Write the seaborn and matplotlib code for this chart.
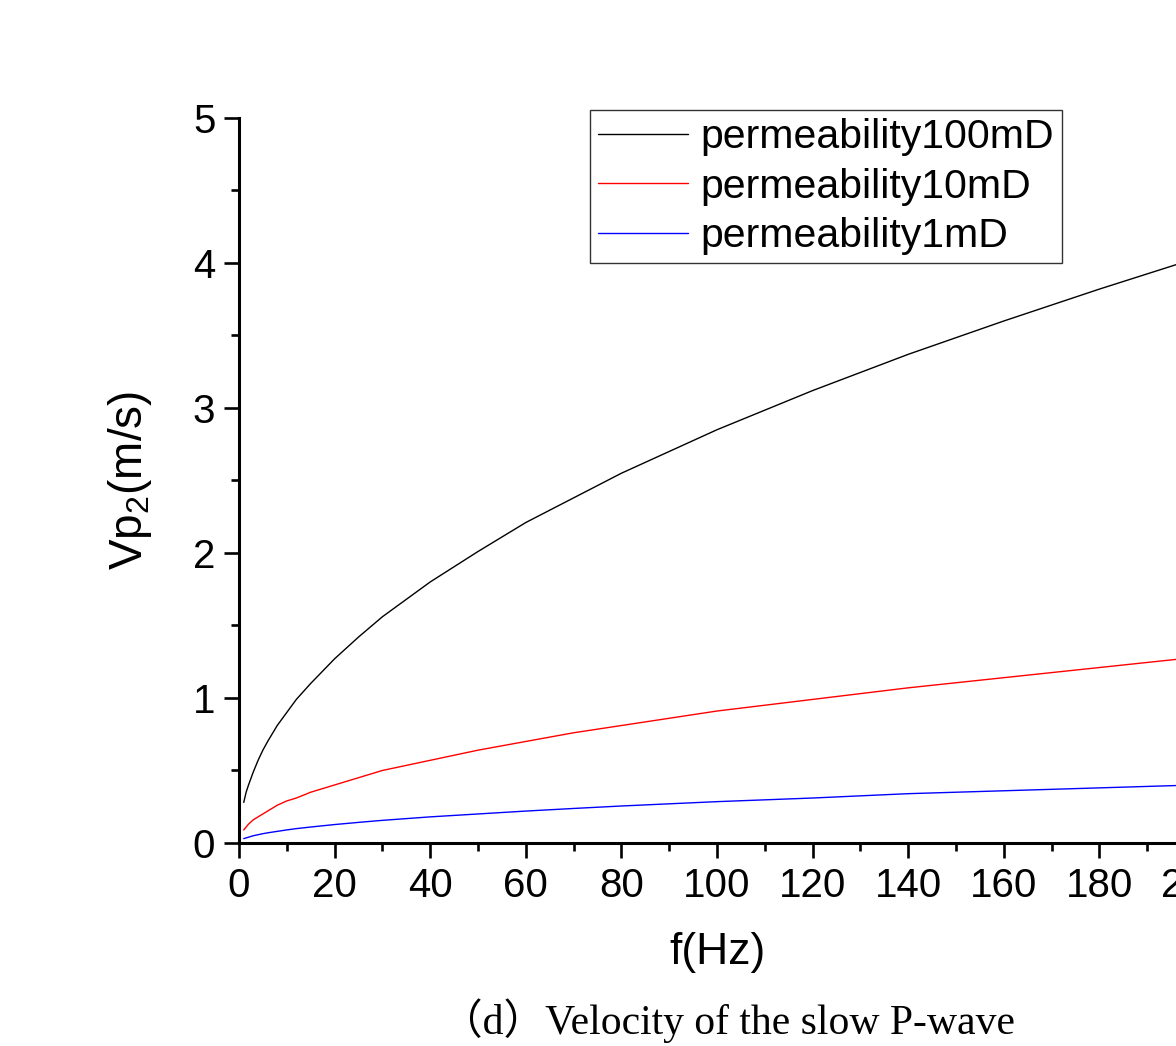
import numpy as np
import pandas as pd
import matplotlib
matplotlib.use("Agg")
import matplotlib.pyplot as plt
from matplotlib.ticker import MultipleLocator
import seaborn as sns

# frequencies (Hz) and velocities
freq = [1, 1.5, 2, 3, 4, 5, 6, 8, 10, 12, 15, 20, 25, 30, 40, 50, 60, 70, 80, 100,
        120, 140, 160, 180, 200]
vp_100mD = [0.28, 0.35, 0.40, 0.49, 0.57, 0.64, 0.70, 0.81, 0.90, 0.99, 1.10, 1.27,
            1.42, 1.56, 1.80, 2.01, 2.21, 2.38, 2.55, 2.85, 3.12, 3.37, 3.60, 3.82, 4.03]
vp_10mD = [0.09, 0.11, 0.13, 0.16, 0.18, 0.20, 0.22, 0.26, 0.29, 0.31, 0.35, 0.40,
           0.45, 0.50, 0.57, 0.64, 0.70, 0.76, 0.81, 0.91, 0.99, 1.07, 1.14, 1.21, 1.28]
vp_1mD = [0.03, 0.035, 0.04, 0.05, 0.057, 0.064, 0.07, 0.08, 0.09, 0.099, 0.11, 0.127,
          0.142, 0.156, 0.18, 0.20, 0.22, 0.238, 0.255, 0.285, 0.31, 0.34, 0.36, 0.38, 0.40]
labels = ['permeability100mD', 'permeability10mD', 'permeability1mD']
colors = ['black', 'red', 'blue']

df = pd.concat([
    pd.DataFrame({'f': freq, 'vp': v, 'perm': lab})
    for v, lab in zip([vp_100mD, vp_10mD, vp_1mD], labels)
])

sns.set_style('ticks')
plt.rcParams['font.family'] = ['Liberation Sans', 'DejaVu Sans']
plt.rcParams['mathtext.fontset'] = 'custom'
plt.rcParams['mathtext.rm'] = 'Liberation Sans'
plt.rcParams['mathtext.it'] = 'Liberation Sans'
plt.rcParams['text.color'] = 'black'
plt.rcParams['axes.labelcolor'] = 'black'

fig = plt.figure(figsize=(11.76, 10.46), dpi=100)
ax = fig.add_axes([0.2032, 0.1941, 0.813, 0.6931])

sns.lineplot(data=df, x='f', y='vp', hue='perm', hue_order=labels,
             palette=colors, linewidth=1.0, ax=ax)

ax.set_xlim(0, 200)
ax.set_ylim(0, 5)
ax.xaxis.set_major_locator(MultipleLocator(20))
ax.xaxis.set_minor_locator(MultipleLocator(10))
ax.yaxis.set_major_locator(MultipleLocator(1))
ax.yaxis.set_minor_locator(MultipleLocator(0.5))

for s in ['top', 'right']:
    ax.spines[s].set_visible(False)
for s in ['left', 'bottom']:
    ax.spines[s].set_linewidth(2.2)
    ax.spines[s].set_color('black')

ax.tick_params(which='major', length=11, width=1.9, labelsize=29,
               colors='black', labelcolor='black', pad=6)
ax.tick_params(which='minor', length=6, width=1.9, colors='black')

ax.set_xlabel('f(Hz)', fontsize=32, labelpad=20)
ax.set_ylabel(r'Vp$_2$(m/s)', fontsize=33, labelpad=28)

leg = ax.legend(loc='upper left', bbox_to_anchor=(0.5017, 0.8948),
                bbox_transform=fig.transFigure, fontsize=29.5, frameon=True,
                fancybox=False, handlelength=2.2, handletextpad=0.3,
                labelspacing=0.28, borderpad=0.2, borderaxespad=0)
leg.get_frame().set_edgecolor('black')
leg.get_frame().set_linewidth(1.0)
for h in leg.get_lines():
    h.set_linewidth(1.0)
for t in leg.get_texts():
    t.set_color('black')

fig.text(0.619, 0.003, '（d）Velocity of the slow P-wave', fontsize=30,
         family=['Liberation Serif', 'Noto Sans CJK SC'],
         ha='center', va='bottom')

fig.savefig('out.png', dpi=100)
